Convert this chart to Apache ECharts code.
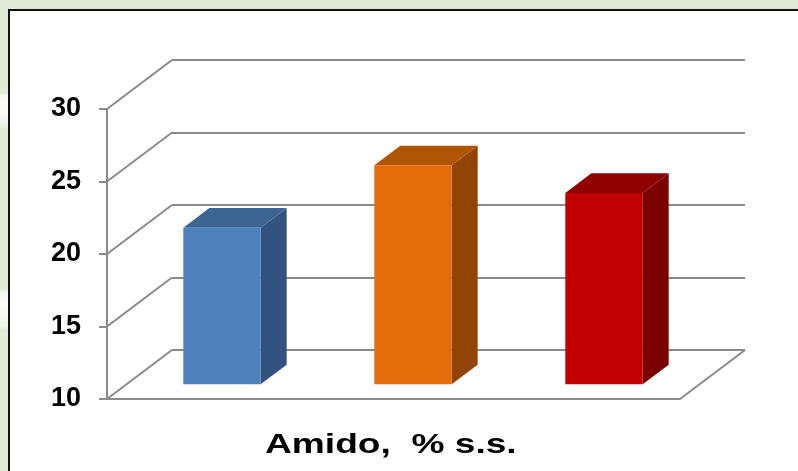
<!DOCTYPE html>
<html>
<head>
<meta charset="utf-8">
<script src="https://cdn.jsdelivr.net/npm/echarts@6/dist/echarts.min.js"></script>
<style>
  html, body { margin: 0; padding: 0; }
  body {
    width: 798px; height: 471px; overflow: hidden; position: relative;
    background: linear-gradient(to bottom,
      #e2ebd8 0px, #e2ebd8 92px, #f6f9f3 96px, #fbfcf9 110px, #eef3e8 123px,
      #e2ebd8 128px, #e2ebd8 289px, #f5f8f1 293px, #fbfcf9 305px, #f0f4eb 326px,
      #e2ebd8 330px, #e2ebd8 471px);
  }
  #frame {
    position: absolute; left: 8px; top: 9px; right: 0; bottom: 0;
    background: #ffffff;
    border-left: 2px solid #111;
    border-top: 2px solid #111;
  }
  #chart { position: absolute; left: 0; top: 0; width: 798px; height: 471px; }
</style>
</head>
<body>
<div id="frame"></div>
<div id="chart"></div>
<script>
// Chart data
const categories = ['A', 'B', 'C'];
const amido = [20.8, 25.1, 23.2];
const yTicks = [10, 15, 20, 25, 30];
const chartTitle = 'Amido,  % s.s.';

// Axis range
const Y_MIN = 10, Y_MAX = 30, Y_STEP = 5;

// 3-D box: depth vector from the front plane to the back wall
const DX = 65, DY = -49;
// bars occupy this slice of the depth
const F0 = 0.30, F1 = 0.70;
const BAR_RATIO = 0.405;

const GRID_COLOR = '#8a8a8a';
const FONT = 'Liberation Sans, Arial, sans-serif';
const faceColors = [
  { front: '#4f81bd', top: '#3c6594', side: '#32537d' },
  { front: '#e46c0a', top: '#b05505', side: '#924306' },
  { front: '#c00000', top: '#8f0000', side: '#7b0000' }
];

const front = { left: 107, top: 109, width: 573, height: 290 };

const chart = echarts.init(document.getElementById('chart'), null, { renderer: 'canvas' });

const option = {
  animation: false,
  backgroundColor: 'transparent',
  graphic: [
    {
      // caption under the chart, set in a widened bold face
      type: 'text',
      x: 265,
      y: 432,
      scaleX: 1.375,
      silent: true,
      style: {
        text: chartTitle,
        font: 'bold 27px ' + FONT,
        fill: '#000',
        textAlign: 'left',
        textVerticalAlign: 'top'
      }
    }
  ],
  grid: [
    // front plane (value axis and floor front edge)
    { left: front.left, top: front.top, width: front.width, height: front.height, outerBoundsMode: 'none' },
    // back wall
    { left: front.left + DX, top: front.top + DY, width: front.width, height: front.height, outerBoundsMode: 'none' }
  ],
  xAxis: [
    {
      gridIndex: 0, type: 'category', data: categories,
      axisLine: { show: true, lineStyle: { color: GRID_COLOR, width: 2 } },
      axisTick: { show: false }, axisLabel: { show: false }, splitLine: { show: false }
    },
    {
      gridIndex: 1, type: 'category', data: categories, show: false
    }
  ],
  yAxis: [
    {
      gridIndex: 0, type: 'value', min: Y_MIN, max: Y_MAX, interval: Y_STEP,
      axisLine: { show: true, lineStyle: { color: GRID_COLOR, width: 2 } },
      axisTick: { show: true, length: 8, lineStyle: { color: GRID_COLOR, width: 2 } },
      axisLabel: {
        margin: 26,
        padding: [5, 0, 0, 0],
        fontFamily: FONT,
        fontSize: 27, fontWeight: 'bold', color: '#000'
      },
      splitLine: { show: false }
    },
    {
      gridIndex: 1, type: 'value', min: Y_MIN, max: Y_MAX, interval: Y_STEP,
      axisLine: { show: false }, axisTick: { show: false }, axisLabel: { show: false },
      splitLine: { show: true, lineStyle: { color: GRID_COLOR, width: 2 } }
    }
  ],
  series: [
    {
      // side wall diagonals and the floor's right edge
      type: 'custom',
      xAxisIndex: 0, yAxisIndex: 0,
      silent: true,
      z: 1,
      data: yTicks.map(v => [0, v]),
      renderItem: function (params, api) {
        const cs = params.coordSys;
        const y = api.coord([0, api.value(1)])[1];
        const style = { stroke: GRID_COLOR, lineWidth: 2, fill: null };
        const children = [{
          type: 'line',
          shape: { x1: cs.x, y1: y, x2: cs.x + DX, y2: y + DY },
          style: style
        }];
        if (api.value(1) === Y_MIN) {
          children.push({
            type: 'line',
            shape: { x1: cs.x + cs.width, y1: y, x2: cs.x + cs.width + DX, y2: y + DY },
            style: style
          });
        }
        return { type: 'group', children: children };
      }
    },
    {
      // 3-D bars
      type: 'custom',
      xAxisIndex: 0, yAxisIndex: 0,
      z: 3,
      data: categories.map((c, i) => [i, amido[i]]),
      renderItem: function (params, api) {
        const idx = api.value(0);
        const top = api.coord([idx, api.value(1)]);
        const base = api.coord([idx, Y_MIN]);
        const bw = api.size([1, 0])[0] * BAR_RATIO;
        const x0 = top[0] - bw / 2 + F0 * DX;
        const yt = top[1] + F0 * DY;
        const yb = base[1] + F0 * DY;
        const bx = (F1 - F0) * DX, by = (F1 - F0) * DY;
        const c = faceColors[params.dataIndex];
        return {
          type: 'group',
          children: [
            {
              type: 'polygon',
              shape: { points: [[x0 + bw, yt], [x0 + bw + bx, yt + by], [x0 + bw + bx, yb + by], [x0 + bw, yb]] },
              style: { fill: c.side }
            },
            {
              type: 'polygon',
              shape: { points: [[x0, yt], [x0 + bw, yt], [x0 + bw + bx, yt + by], [x0 + bx, yt + by]] },
              style: { fill: c.top }
            },
            {
              type: 'rect',
              shape: { x: x0, y: yt, width: bw, height: yb - yt },
              style: { fill: c.front }
            }
          ]
        };
      }
    }
  ]
};

chart.setOption(option);
</script>
</body>
</html>
